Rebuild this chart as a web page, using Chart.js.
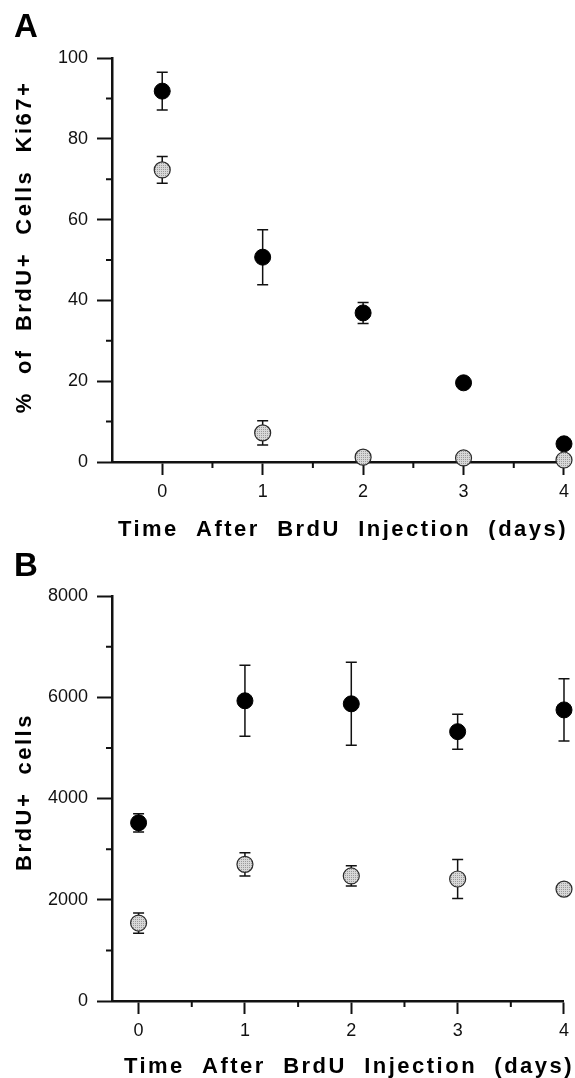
<!DOCTYPE html>
<html>
<head>
<meta charset="utf-8">
<script src="https://cdn.jsdelivr.net/npm/chart.js@4.4.1/dist/chart.umd.min.js"></script>
<style>
  body { margin: 0; background: #fff; }
  canvas { position: absolute; left: 0; }
  #chartA { top: 0; }
  #chartB { top: 540px; }
</style>
</head>
<body>
<canvas id="chartA" width="575" height="540"></canvas>
<canvas id="chartB" width="575" height="538"></canvas>
<script>
const days = [0, 1, 2, 3, 4];

// panel A: % of BrdU+ cells that are Ki67+
const ki67Black = [91.8, 50.7, 36.9, 19.6, 4.5];
const ki67BlackErr = [4.7, 6.8, 2.6, 0, 0];
const ki67Gray = [72.3, 7.2, 1.2, 1.0, 0.5];
const ki67GrayErr = [3.3, 3.0, 0, 0, 0];

// panel B: BrdU+ cells
const brduBlack = [3520, 5930, 5870, 5320, 5750];
const brduBlackErr = [180, 700, 820, 345, 615];
const brduGray = [1540, 2700, 2470, 2410, 2210];
const brduGrayErr = [200, 230, 200, 385, 0];

const yTicksA = [0, 20, 40, 60, 80, 100];
const yTicksB = [0, 2000, 4000, 6000, 8000];

const ink = '#111';
const FONT = '"Liberation Sans", Arimo, Arial, sans-serif';

function xy(vals) {
  return days.map((d, i) => ({ x: d, y: vals[i] }));
}

// stippled grey like the printed dots
function stipple() {
  const c = document.createElement('canvas');
  c.width = 2; c.height = 2;
  const g = c.getContext('2d');
  g.fillStyle = '#d8d8d8'; g.fillRect(0, 0, 2, 2);
  g.fillStyle = '#9a9a9a'; g.fillRect(1, 1, 1, 1);
  return g.createPattern(c, 'repeat');
}
const grayFill = stipple();

const errorBars = {
  id: 'errorBars',
  beforeDatasetsDraw(chart) {
    const ctx = chart.ctx, ys = chart.scales.y;
    ctx.save();
    ctx.strokeStyle = ink;
    ctx.lineWidth = 1.5;
    chart.data.datasets.forEach((ds, i) => {
      const pts = chart.getDatasetMeta(i).data;
      ds.err.forEach((e, j) => {
        if (!e) return;
        const v = ds.data[j].y;
        const x = pts[j].x;
        const top = ys.getPixelForValue(v + e), bot = ys.getPixelForValue(v - e);
        ctx.beginPath();
        ctx.moveTo(x, top); ctx.lineTo(x, bot);
        ctx.moveTo(x - 5.5, top); ctx.lineTo(x + 5.5, top);
        ctx.moveTo(x - 5.5, bot); ctx.lineTo(x + 5.5, bot);
        ctx.stroke();
      });
    });
    ctx.restore();
  }
};

// short ticks half way between the labelled ones
const minorTicks = {
  id: 'minorTicks',
  afterDraw(chart) {
    const ctx = chart.ctx, xs = chart.scales.x, ys = chart.scales.y;
    ctx.save();
    ctx.strokeStyle = ink;
    ctx.lineWidth = 2;
    ctx.beginPath();
    for (let i = 0; i < xs.ticks.length - 1; i++) {
      const px = xs.getPixelForValue((xs.ticks[i].value + xs.ticks[i + 1].value) / 2);
      ctx.moveTo(px, xs.top); ctx.lineTo(px, xs.top + 6);
    }
    for (let i = 0; i < ys.ticks.length - 1; i++) {
      const py = ys.getPixelForValue((ys.ticks[i].value + ys.ticks[i + 1].value) / 2);
      ctx.moveTo(ys.right - 6, py); ctx.lineTo(ys.right, py);
    }
    ctx.stroke();
    ctx.restore();
  }
};

const panelText = {
  id: 'panelText',
  afterDraw(chart, args, o) {
    const ctx = chart.ctx;
    ctx.save();
    ctx.fillStyle = '#000';
    ctx.textAlign = 'center';
    ctx.textBaseline = 'alphabetic';
    ctx.font = 'bold 33px ' + FONT;
    ctx.fillText(o.letter, 26, o.letterY);
    ctx.font = 'bold 22px ' + FONT;
    ctx.letterSpacing = '2.5px';
    ctx.fillText(o.xTitle, o.xTitleX, o.xTitleY);
    ctx.textBaseline = 'middle';
    ctx.translate(25, o.yTitleY);
    ctx.rotate(-Math.PI / 2);
    ctx.fillText(o.yTitle, 0, 0);
    ctx.restore();
  }
};

function panel(id, p) {
  return new Chart(document.getElementById(id), {
    type: 'scatter',
    data: {
      datasets: [
        { label: 'grey', data: xy(p.gray), err: p.grayErr, order: 0,
          backgroundColor: grayFill, borderColor: '#2a2a2a', borderWidth: 1.2,
          pointRadius: 8, clip: false },
        { label: 'black', data: xy(p.black), err: p.blackErr, order: 1,
          backgroundColor: '#000', borderColor: '#000', borderWidth: 1,
          pointRadius: 8, clip: false }
      ]
    },
    options: {
      responsive: false,
      animation: false,
      events: [],
      layout: { padding: { top: p.padTop, right: 9, left: 0, bottom: 0 } },
      plugins: {
        legend: { display: false },
        tooltip: { enabled: false },
        panelText: p.text
      },
      scales: {
        x: {
          type: 'linear',
          bounds: 'data',
          min: p.xMin,
          max: days[days.length - 1],
          afterBuildTicks: s => { s.ticks = days.map(d => ({ value: d })); },
          afterFit: s => { s.height = p.xAxisH; },
          ticks: { padding: 6, maxRotation: 0,
                   color: ink, font: { family: FONT, size: 18 } },
          grid: { drawOnChartArea: false, tickLength: 13, tickWidth: 2, color: ink },
          border: { width: 2.5, color: ink }
        },
        y: {
          min: p.yTicks[0],
          max: p.yTicks[p.yTicks.length - 1],
          afterBuildTicks: s => { s.ticks = p.yTicks.map(v => ({ value: v })); },
          afterFit: s => { s.width = 112; },
          ticks: { padding: 9,
                   callback: v => String(v),
                   color: ink, font: { family: FONT, size: 18 } },
          grid: { drawOnChartArea: false, tickLength: 15, tickWidth: 2, color: ink },
          border: { width: 2.5, color: ink }
        }
      }
    },
    plugins: [errorBars, minorTicks, panelText]
  });
}

panel('chartA', {
  black: ki67Black, blackErr: ki67BlackErr,
  gray: ki67Gray, grayErr: ki67GrayErr,
  yTicks: yTicksA, xMin: -0.5, padTop: 58, xAxisH: 78,
  text: { letter: 'A', letterY: 37,
          xTitle: 'Time  After  BrdU  Injection  (days)', xTitleX: 343, xTitleY: 536,
          yTitle: '%  of  BrdU+  Cells  Ki67+', yTitleY: 247 }
});

panel('chartB', {
  black: brduBlack, blackErr: brduBlackErr,
  gray: brduGray, grayErr: brduGrayErr,
  yTicks: yTicksB, xMin: -0.25, padTop: 56, xAxisH: 77,
  text: { letter: 'B', letterY: 36,
          xTitle: 'Time  After  BrdU  Injection  (days)', xTitleX: 349, xTitleY: 533,
          yTitle: 'BrdU+  cells', yTitleY: 252 }
});
</script>
</body>
</html>
